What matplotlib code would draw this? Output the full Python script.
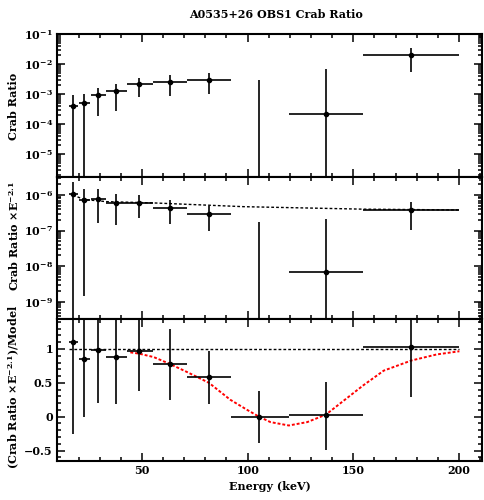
import matplotlib
matplotlib.use('Agg')
import matplotlib.pyplot as plt
import numpy as np
from matplotlib.ticker import LogLocator, MultipleLocator, NullFormatter

plt.rcParams['font.family'] = 'DejaVu Serif'
plt.rcParams['font.weight'] = 'bold'
plt.rcParams['mathtext.fontset'] = 'dejavuserif'
plt.rcParams['mathtext.default'] = 'bf'

# energy bins (keV)
e_mid = [17.4, 22.4, 29.1, 37.8, 48.7, 63.1, 81.6, 105.6, 137.0, 177.4]
e_lo = [15.3, 20.4, 25.9, 33.2, 42.7, 55.1, 71.3, 92.3, 119.5, 154.6]
e_hi = [19.6, 25.6, 33.2, 43.0, 55.1, 71.3, 92.3, 119.5, 154.6, 200.0]

# top panel: crab ratio (values below the axis are off-scale)
crab = [4.1e-4, 5.0e-4, 9.0e-4, 1.26e-3, 2.1e-3, 2.6e-3, 2.9e-3, 1e-8, 2.1e-4, 2.0e-2]
crab_up = [9.5e-4, 1.0e-3, 1.6e-3, 2.2e-3, 3.4e-3, 4.2e-3, 5.0e-3, 3.0e-3, 6.6e-3, 3.4e-2]
crab_dn = [1e-8, 1e-8, 1.9e-4, 2.8e-4, 8.1e-4, 8.8e-4, 1.0e-3, 1e-8, 1e-8, 5.5e-3]

# middle panel: crab ratio x E^-2.1
scaled = [1.04e-6, 7.2e-7, 7.6e-7, 6.1e-7, 6.0e-7, 4.3e-7, 3.0e-7, 1e-11, 7.1e-9, 3.8e-7]
scaled_up = [2.35e-6, 1.47e-6, 1.47e-6, 1.07e-6, 9.8e-7, 7.2e-7, 5.0e-7, 1.8e-7, 2.1e-7, 6.5e-7]
scaled_dn = [1e-11, 1.45e-9, 1.6e-7, 1.4e-7, 2.3e-7, 1.5e-7, 9.8e-8, 1e-11, 1e-11, 1.05e-7]
model_e = [17.4, 22.4, 33.2, 55.1, 98.0, 154.6, 200.0]
model_v = [1.0e-6, 7.5e-7, 6.5e-7, 6.0e-7, 4.7e-7, 4.0e-7, 3.8e-7]

# bottom panel: data / model
ratio = [1.10, 0.858, 0.99, 0.883, 0.972, 0.775, 0.58, 0.0, 0.02, 1.025]
ratio_up = [2.3, 1.9, 1.9, 1.7, 1.6, 1.30, 0.976, 0.385, 0.51, 1.7]
ratio_dn = [-0.256, 0.0, 0.207, 0.192, 0.375, 0.25, 0.188, -0.39, -0.49, 0.285]
unity_e = [15.3, 200.0]
unity_v = [1.0, 1.0]
cyc_e = [44.5, 48.8, 55.6, 63.1, 71.3, 81.7, 91.8, 99.8, 105.4, 110.8, 119.5,
         128.2, 137.0, 145.6, 154.6, 164.4, 177.5, 189.6, 200.2]
cyc_v = [0.95, 0.93, 0.88, 0.78, 0.66, 0.50, 0.25, 0.10, 0.0, -0.08, -0.13,
         -0.08, 0.03, 0.24, 0.46, 0.68, 0.83, 0.92, 0.966]


def draw_points(ax, y, y_up, y_dn):
    x = np.array(e_mid)
    y = np.array(y)
    xerr = [x - np.array(e_lo), np.array(e_hi) - x]
    yerr = [y - np.array(y_dn), np.array(y_up) - y]
    ax.errorbar(x, y, xerr=xerr, yerr=yerr, fmt='o', color='black', ms=3,
                elinewidth=1.2, capsize=0, zorder=3)


def style_axis(ax):
    ax.set_xlim(9.8, 210.9)
    ax.xaxis.set_major_locator(MultipleLocator(50))
    ax.xaxis.set_minor_locator(MultipleLocator(10))
    ax.tick_params(which='both', direction='in', top=True, right=True,
                   width=1.1, labelsize=8)
    ax.tick_params(which='major', length=6, pad=3)
    ax.tick_params(which='minor', length=3)
    for s in ax.spines.values():
        s.set_linewidth(1.5)


fig = plt.figure(figsize=(4.85, 5.0), dpi=100)
left, width = 57 / 485, 425 / 485
ax1 = fig.add_axes([left, 1 - 177 / 500, width, 143 / 500])
ax2 = fig.add_axes([left, 1 - 318.5 / 500, width, 141.5 / 500])
ax3 = fig.add_axes([left, 1 - 460.7 / 500, width, 142.2 / 500])

# top
draw_points(ax1, crab, crab_up, crab_dn)
ax1.set_yscale('log')
ax1.set_ylim(1.7e-6, 1e-1)
style_axis(ax1)
ax1.yaxis.set_major_locator(LogLocator(base=10, numticks=20))
ax1.yaxis.set_minor_locator(LogLocator(base=10, subs=np.arange(2, 10), numticks=20))
ax1.yaxis.set_minor_formatter(NullFormatter())
ax1.tick_params(labelbottom=False)

# middle
ax2.plot(model_e, model_v, color='black', lw=1.0, ls=(0, (2, 1.5)))
draw_points(ax2, scaled, scaled_up, scaled_dn)
ax2.set_yscale('log')
ax2.set_ylim(3.4e-10, 3.2e-6)
style_axis(ax2)
ax2.yaxis.set_major_locator(LogLocator(base=10, numticks=20))
ax2.yaxis.set_minor_locator(LogLocator(base=10, subs=np.arange(2, 10), numticks=20))
ax2.yaxis.set_minor_formatter(NullFormatter())
ax2.tick_params(labelbottom=False)

# bottom
ax3.plot(unity_e, unity_v, color='black', lw=1.0, ls=(0, (2, 1.5)))
ax3.plot(cyc_e, cyc_v, color='red', lw=1.4, ls=(0, (1.5, 1.0)))
draw_points(ax3, ratio, ratio_up, ratio_dn)
ax3.set_ylim(-0.65, 1.45)
style_axis(ax3)
ax3.yaxis.set_major_locator(MultipleLocator(0.5))
ax3.yaxis.set_minor_locator(MultipleLocator(0.1))
ax3.set_yticks([-0.5, 0, 0.5, 1])
ax3.set_yticklabels(['\u22120.5', '0', '0.5', '1'])
ax3.set_xlabel('Energy (keV)', fontsize=8, fontweight='bold', labelpad=4)

fig.text(276 / 485, 1 - 14 / 500, 'A0535+26 OBS1 Crab Ratio', ha='center',
         va='center', fontsize=8, fontweight='bold')
fig.text(14 / 485, 1 - 106 / 500, 'Crab Ratio', rotation=90, ha='center',
         va='center', fontsize=8, fontweight='bold')
fig.text(14 / 485, 1 - 236 / 500, r'Crab Ratio $\times$E$^{-2.1}$', rotation=90,
         ha='center', va='center', fontsize=8, fontweight='bold')
fig.text(14 / 485, 1 - 387 / 500, r'(Crab Ratio $\times$E$^{-2.1}$)/Model',
         rotation=90, ha='center', va='center', fontsize=8, fontweight='bold')

fig.savefig('out.png', dpi=100)
